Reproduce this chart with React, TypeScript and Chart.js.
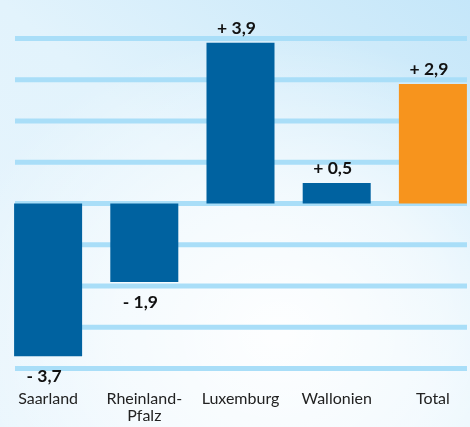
import { useEffect, useRef } from "react";
import { Chart, registerables } from "chart.js";

Chart.register(...registerables);

const categories: (string | string[])[] = ["Saarland", ["Rheinland-", "Pfalz"], "Luxemburg", "Wallonien", "Total"];
const values = [-3.7, -1.9, 3.9, 0.5, 2.9];
const valueLabels = ["- 3,7", "- 1,9", "+ 3,9", "+ 0,5", "+ 2,9"];
const barColors = ["#0062a0", "#0062a0", "#0062a0", "#0062a0", "#f7941d"];
const gridValues = [-4, -3, -2, -1, 0, 1, 2, 3, 4];

const gridPlugin = {
  id: "customGrid",
  beforeDatasetsDraw(chart: any) {
    const { ctx, chartArea, scales } = chart;
    ctx.save();
    ctx.strokeStyle = "#a9def8";
    ctx.lineWidth = 5;
    for (const v of gridValues) {
      const y = scales.y.getPixelForValue(v);
      ctx.beginPath();
      ctx.moveTo(chartArea.left + 15, y);
      ctx.lineTo(chartArea.left + 467, y);
      ctx.stroke();
    }
    ctx.restore();
  },
};

const labelPlugin = {
  id: "valueLabels",
  afterDatasetsDraw(chart: any) {
    const { ctx } = chart;
    const meta = chart.getDatasetMeta(0);
    ctx.save();
    ctx.font = "bold 17.5px Lato";
    ctx.fillStyle = "#111111";
    ctx.textAlign = "center";
    ctx.textBaseline = "alphabetic";
    meta.data.forEach((bar: any, i: number) => {
      const v = values[i];
      const x = bar.x - 4;
      const y = v >= 0 ? bar.y - 9 : bar.y + 26;
      ctx.fillText(valueLabels[i], x, y);
    });
    ctx.restore();
  },
};

export default function App() {
  const ref = useRef<HTMLCanvasElement | null>(null);
  useEffect(() => {
    document.body.style.margin = "0";
    document.body.style.overflow = "hidden";
    if (!ref.current) return;
    const chart = new Chart(ref.current, {
      type: "bar",
      data: {
        labels: categories as any,
        datasets: [
          {
            data: values,
            backgroundColor: barColors,
            borderWidth: 0,
            categoryPercentage: 1,
            barPercentage: 0.707,
          },
        ],
      },
      options: {
        animation: false,
        responsive: false,
        devicePixelRatio: 1,
        layout: { padding: { top: 38.5, left: 0, right: 0, bottom: 0 } },
        plugins: { legend: { display: false }, tooltip: { enabled: false } },
        scales: {
          x: {
            grid: { display: false, drawTicks: false },
            border: { display: false },
            ticks: {
              color: "#222222",
              font: { family: "Lato", size: 16, lineHeight: 1.05 },
              padding: 22,
              maxRotation: 0,
              autoSkip: false,
            },
            afterFit(scale: any) {
              scale.height = 58.5;
              scale.paddingLeft = 0;
              scale.paddingRight = 0;
            },
          },
          y: {
            display: false,
            min: -4,
            max: 4,
          },
        },
      },
      plugins: [gridPlugin, labelPlugin],
    });
    return () => chart.destroy();
  }, []);
  return (
    <div
      style={{
        width: 481,
        height: 427,
        background:
          "radial-gradient(ellipse 70% 70% at 58% 78%, rgba(255,255,255,0.95) 0%, rgba(255,255,255,0.6) 50%, rgba(255,255,255,0) 100%), linear-gradient(to bottom left, #c4e6f9 0%, #e2f3fc 50%, #e8f5fd 100%)",
      }}
    >
      <canvas ref={ref} width={481} height={427} style={{ display: "block" }} />
    </div>
  );
}
